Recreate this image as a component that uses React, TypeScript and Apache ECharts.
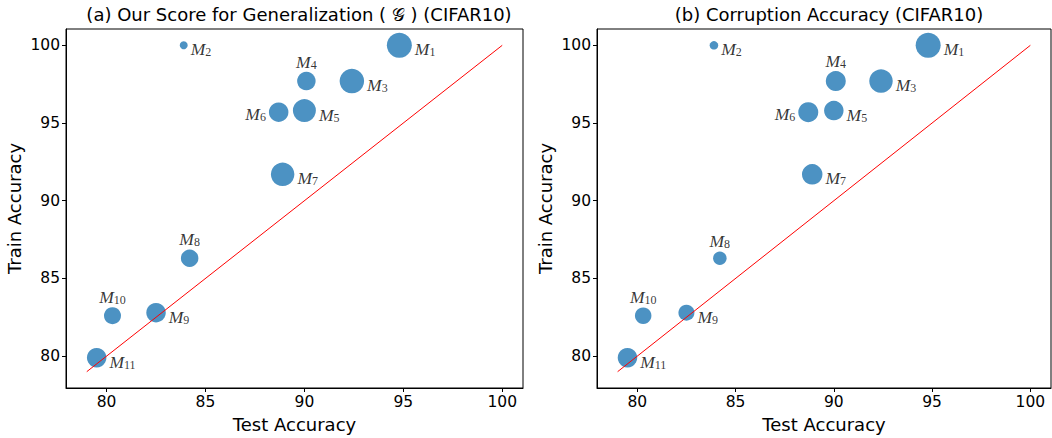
import React, { useEffect, useRef } from "react";
import * as echarts from "echarts";

const modelNames = ["1", "2", "3", "4", "5", "6", "7", "8", "9", "10", "11"];
const testAcc = [94.8, 83.9, 92.4, 90.1, 90.0, 88.7, 88.9, 84.2, 82.5, 80.3, 79.5];
const trainAcc = [100.0, 100.0, 97.7, 97.7, 95.8, 95.7, 91.7, 86.3, 82.8, 82.6, 79.9];
const sizeGen = [25, 8, 24.5, 18.5, 23, 19.5, 23.5, 17.5, 19.5, 17, 19.5];
const sizeCorr = [25, 8.5, 23.5, 20, 19.5, 20, 20.5, 13.5, 16, 16.5, 19.5];
const tickValues = [80, 85, 90, 95, 100];
const diagLine = [79, 100];
const titles = [
  "(a) Our Score for Generalization ( \u{1D4A2} ) (CIFAR10)",
  "(b) Corruption Accuracy (CIFAR10)",
];
const labelPlacement = ["right", "right", "right", "top", "right", "left", "right", "top", "right", "top", "right"];

const FONT = "DejaVu Sans";

function makeAxis(idx: number, isX: boolean) {
  return {
    type: "value",
    gridIndex: idx,
    min: 77.95,
    max: 101.05,
    name: isX ? "Test Accuracy" : "Train Accuracy",
    nameLocation: "middle",
    nameGap: isX ? 27 : 43,
    nameTextStyle: { fontFamily: FONT, fontSize: 18, color: "#000" },
    splitLine: { show: false },
    axisLine: { show: true, onZero: false, lineStyle: { color: "#000", width: 1 } },
    axisTick: { show: true, inside: false, length: 4, customValues: tickValues, lineStyle: { color: "#000" } },
    axisLabel: { show: true, customValues: tickValues, fontFamily: FONT, fontSize: 15.5, color: "#000", margin: 6 },
  };
}

function makeScatter(idx: number, sizes: number[]) {
  return {
    type: "scatter",
    xAxisIndex: idx,
    yAxisIndex: idx,
    z: 2,
    symbolSize: (v: number[]) => v[2],
    itemStyle: { color: "#1f77b4", opacity: 0.8 },
    data: testAcc.map((x, i) => {
      const pos = labelPlacement[i];
      return {
        value: [x, trainAcc[i], sizes[i]],
        label: {
          show: true,
          position: pos,
          distance: pos === "top" ? 1 : 3,
          offset: pos === "right" ? [0, 4] : pos === "left" ? [0, 2] : [0, 0],
          formatter: `{m|M}{s|${modelNames[i]}}`,
          rich: {
            m: { fontFamily: "Liberation Serif", fontStyle: "italic", fontSize: 17.5, color: "#000", verticalAlign: "top" },
            s: { fontFamily: "Liberation Serif", fontSize: 12, color: "#000", verticalAlign: "bottom", padding: [5, 0, 0, 0] },
          },
        },
      };
    }),
  };
}

function makeLine(idx: number) {
  return {
    type: "line",
    xAxisIndex: idx,
    yAxisIndex: idx,
    z: 5,
    symbol: "none",
    lineStyle: { color: "#ff0000", width: 1 },
    data: [
      [diagLine[0], diagLine[0]],
      [diagLine[1], diagLine[1]],
    ],
  };
}

export default function App() {
  const ref = useRef<HTMLDivElement>(null);
  useEffect(() => {
    if (!ref.current) return;
    const chart = echarts.init(ref.current, null, { renderer: "svg" });
    chart.setOption({
      animation: false,
      backgroundColor: "#fff",
      title: [
        { text: titles[0], left: 294, top: 0, textAlign: "center", textStyle: { fontFamily: FONT, fontSize: 18, fontWeight: "normal", color: "#000" } },
        { text: titles[1], left: 824, top: 0, textAlign: "center", textStyle: { fontFamily: FONT, fontSize: 18, fontWeight: "normal", color: "#000" } },
      ],
      grid: [
        { left: 66, top: 29, width: 457, height: 363, show: true, borderColor: "#000", borderWidth: 1, backgroundColor: "transparent" },
        { left: 597, top: 29, width: 454, height: 363, show: true, borderColor: "#000", borderWidth: 1, backgroundColor: "transparent" },
      ],
      xAxis: [makeAxis(0, true), makeAxis(1, true)],
      yAxis: [makeAxis(0, false), makeAxis(1, false)],
      series: [makeScatter(0, sizeGen), makeLine(0), makeScatter(1, sizeCorr), makeLine(1)],
    });
    return () => chart.dispose();
  }, []);
  return <div ref={ref} style={{ position: "fixed", left: 0, top: 0, width: 1052, height: 438 }} />;
}
